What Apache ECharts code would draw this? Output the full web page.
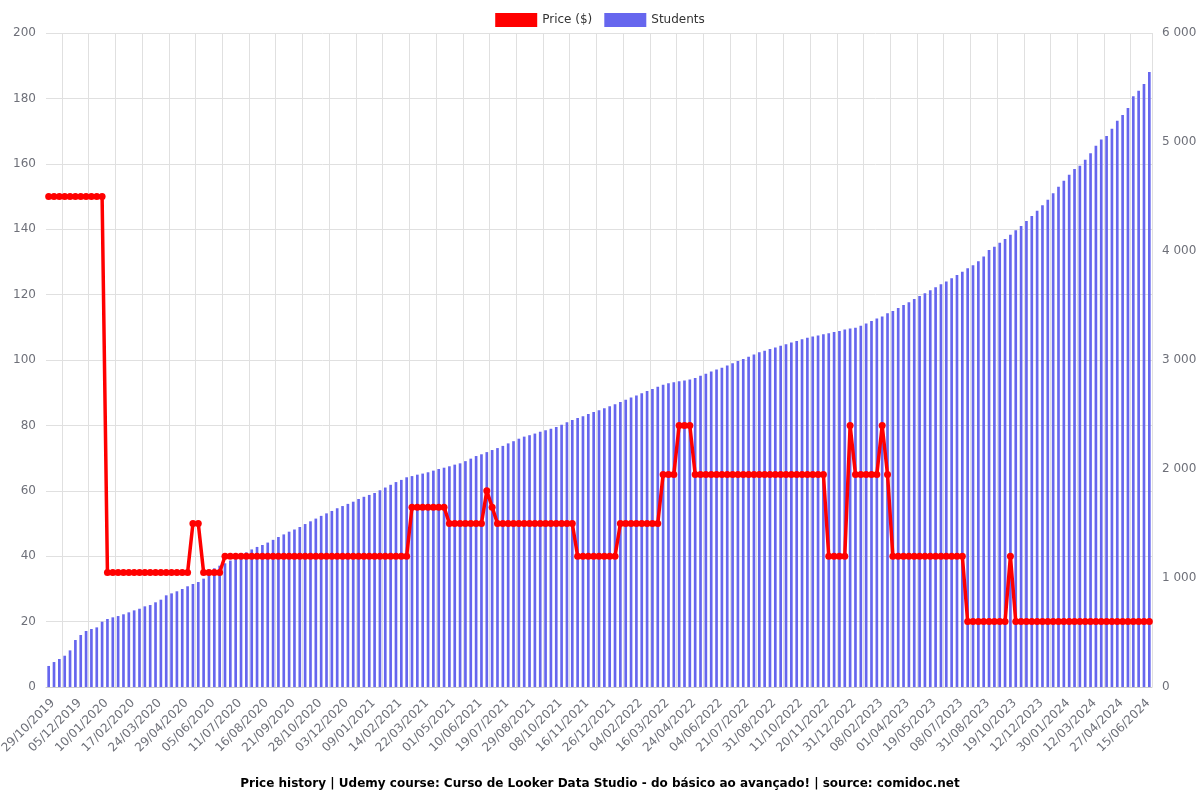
<!DOCTYPE html>
<html>
<head>
<meta charset="utf-8">
<script src="https://cdn.jsdelivr.net/npm/echarts@6/dist/echarts.min.js"></script>
<style>html,body{margin:0;padding:0;background:#fff}#c{width:1200px;height:800px}</style>
</head>
<body>
<div id="c"></div>
<script>
// Visible date labels (every 5th category, starting at the first)
const tickLabels = ['29/10/2019','05/12/2019','10/01/2020','17/02/2020','24/03/2020','29/04/2020','05/06/2020','11/07/2020','16/08/2020','21/09/2020','28/10/2020','03/12/2020','09/01/2021','14/02/2021','22/03/2021','01/05/2021','10/06/2021','19/07/2021','29/08/2021','08/10/2021','16/11/2021','26/12/2021','04/02/2022','16/03/2022','24/04/2022','04/06/2022','21/07/2022','31/08/2022','11/10/2022','20/11/2022','31/12/2022','08/02/2023','01/04/2023','19/05/2023','08/07/2023','31/08/2023','19/10/2023','12/12/2023','30/01/2024','12/03/2024','27/04/2024','15/06/2024'];

const price = [
150,150,150,150,150,150,150,150,150,150,150,
35,35,35,35,35,35,35,35,35,35,35,35,35,35,35,35,
50,50,
35,35,35,35,
40,40,40,40,40,40,40,40,40,40,40,40,40,40,40,40,40,40,40,40,40,40,40,40,40,40,40,40,40,40,40,40,40,40,40,
55,55,55,55,55,55,55,
50,50,50,50,50,50,50,
60,
55,
50,50,50,50,50,50,50,50,50,50,50,50,50,50,50,
40,40,40,40,40,40,40,40,
50,50,50,50,50,50,50,50,
65,65,65,
80,80,80,
65,65,65,65,65,65,65,65,65,65,65,65,65,65,65,65,65,65,65,65,65,65,65,65,65,
40,40,40,40,
80,
65,65,65,65,65,
80,
65,
40,40,40,40,40,40,40,40,40,40,40,40,40,40,
20,20,20,20,20,20,20,20,
40,
20,20,20,20,20,20,20,20,20,20,20,20,20,20,20,20,20,20,20,20,20,20,20,20,20,20
];

const students = [
193,229,257,287,336,431,477,514,532,547,
599,624,639,651,667,685,703,718,740,752,
777,801,841,859,878,899,924,945,963,994,
1037,1089,1113,1135,1160,1190,1210,1235,1262,1285,
1303,1325,1350,1376,1400,1425,1445,1468,1495,1520,
1545,1570,1593,1615,1640,1660,1680,1700,1725,1745,
1762,1780,1805,1830,1855,1880,1900,1924,1935,1948,
1958,1970,1985,2000,2012,2025,2040,2052,2072,2095,
2119,2135,2155,2174,2192,2212,2235,2255,2278,2297,
2310,2325,2342,2355,2370,2385,2405,2428,2450,2468,
2485,2505,2522,2540,2557,2575,2595,2615,2635,2655,
2675,2695,2715,2735,2755,2772,2786,2795,2805,2812,
2820,2835,2855,2875,2895,2912,2930,2950,2970,2990,
3010,3030,3050,3070,3085,3100,3115,3130,3145,3160,
3175,3190,3205,3215,3225,3236,3245,3258,3266,3280,
3290,3297,3315,3335,3358,3380,3400,3428,3450,3478,
3505,3530,3560,3587,3612,3640,3667,3695,3720,3749,
3780,3810,3841,3870,3905,3950,4009,4040,4075,4110,
4150,4190,4230,4275,4320,4370,4420,4470,4530,4590,
4645,4700,4752,4783,4838,4896,4966,5024,5055,5122,
5195,5248,5312,5419,5471,5532,5642
];

const categories = students.map((_, i) => (i % 5 === 0 ? tickLabels[i / 5] : ''));

const FONT = 'DejaVu Sans';
const chart = echarts.init(document.getElementById('c'), null, {renderer: 'canvas'});
chart.setOption({
  animation: false,
  textStyle: {fontFamily: FONT},
  title: {
    text: 'Price history | Udemy course: Curso de Looker Data Studio - do básico ao avançado! | source: comidoc.net',
    left: 'center', bottom: 5,
    textStyle: {fontFamily: FONT, fontSize: 12, fontWeight: 'bold', color: '#000'}
  },
  legend: {
    top: 8, left: 'center', itemWidth: 42, itemHeight: 14, itemGap: 12,
    textStyle: {fontFamily: FONT, fontSize: 12, color: '#333'},
    data: [{name: 'Price ($)', icon: 'rect'}, {name: 'Students', icon: 'rect'}]
  },
  grid: {left: 46, right: 48, top: 33, bottom: 113, containLabel: false, outerBoundsMode: 'none'},
  xAxis: {
    type: 'category',
    data: categories,
    boundaryGap: true,
    axisLine: {lineStyle: {color: '#ccc'}},
    axisTick: {interval: (i) => i % 5 === 3, lineStyle: {color: '#ccc'}},
    splitLine: {show: true, interval: (i) => i % 5 === 3, lineStyle: {color: '#e0e0e0'}},
    axisLabel: {interval: 4, rotate: 45, fontFamily: FONT, fontSize: 12, color: '#6e7079', margin: 10, verticalAlign: 'top'}
  },
  yAxis: [
    {
      type: 'value', min: 0, max: 200, interval: 20, position: 'left',
      axisLine: {show: false}, axisTick: {show: false},
      splitLine: {show: true, lineStyle: {color: '#e0e0e0'}},
      axisLabel: {fontFamily: FONT, fontSize: 12, color: '#6e7079', margin: 10}
    },
    {
      type: 'value', min: 0, max: 6000, interval: 1000, position: 'right',
      axisLine: {show: false}, axisTick: {show: false},
      splitLine: {show: false},
      axisLabel: {fontFamily: FONT, fontSize: 12, color: '#6e7079', margin: 10,
        formatter: (v) => String(v).replace(/\B(?=(\d{3})+(?!\d))/g, ' ')}
    }
  ],
  series: [
    {
      name: 'Students', type: 'bar', yAxisIndex: 1, data: students,
      barCategoryGap: '50%',
      itemStyle: {color: '#6666ee'}, z: 1
    },
    {
      name: 'Price ($)', type: 'line', yAxisIndex: 0, data: price,
      symbol: 'circle', symbolSize: 7, showAllSymbol: true,
      lineStyle: {color: '#ff0000', width: 3.5},
      itemStyle: {color: '#ff0000'}, z: 3
    }
  ]
});
</script>
</body>
</html>
